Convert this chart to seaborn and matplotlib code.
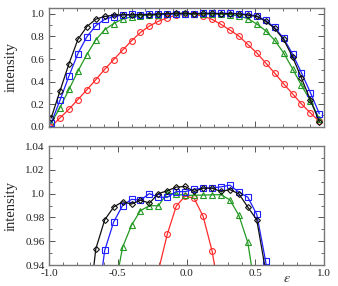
import numpy as np
import pandas as pd
import matplotlib
matplotlib.use("Agg")
import matplotlib.pyplot as plt
import seaborn as sns
from matplotlib.ticker import MultipleLocator, FixedLocator, FixedFormatter

# epsilon grid (31 points)
eps = [-0.985, -0.92, -0.855, -0.79, -0.725, -0.66, -0.595, -0.53, -0.465, -0.4,
       -0.335, -0.27, -0.205, -0.14, -0.075, -0.01, 0.055, 0.12, 0.185, 0.25,
       0.315, 0.38, 0.445, 0.51, 0.575, 0.64, 0.705, 0.77, 0.835, 0.9, 0.965]

red = [0.0, 0.078, 0.155, 0.241, 0.327, 0.417, 0.509, 0.595, 0.679, 0.762,
       0.836, 0.893, 0.935, 0.966, 0.9895, 0.998, 0.996, 0.981, 0.952, 0.908,
       0.857, 0.804, 0.729, 0.655, 0.565, 0.476, 0.381, 0.292, 0.202, 0.122, 0.047]

green = [0.03, 0.17, 0.33, 0.492, 0.64, 0.77, 0.86, 0.915, 0.955, 0.9735,
         0.9858, 0.9898, 0.9898, 1.0005, 0.9995, 0.9986, 0.9986, 0.9988, 0.999, 0.9991,
         0.9947, 0.9818, 0.959, 0.911, 0.851, 0.768, 0.655, 0.515, 0.366, 0.232, 0.069]

blue = [0.030, 0.235, 0.449, 0.649, 0.797, 0.896, 0.9523, 0.9762, 0.990, 0.9952,
        0.9945, 1.0, 0.997, 0.9969, 1.0017, 1.0017, 1.0036, 1.0047, 1.0047, 1.0057,
        1.0071, 1.0012, 0.997, 0.9826, 0.9430, 0.88, 0.785, 0.645, 0.478, 0.303, 0.115]

black = [0.075, 0.318, 0.558, 0.774, 0.887, 0.9535, 0.978, 0.9887, 0.9932, 0.9912,
         0.9945, 0.992, 1.0, 1.0024, 1.0055, 1.006, 1.0018, 1.0046, 1.0046, 1.0018,
         1.0034, 0.9998, 0.9887, 0.978, 0.935, 0.872, 0.774, 0.62, 0.432, 0.235, 0.045]

x_ticks = [-1.0, -0.5, 0.0, 0.5, 1.0]
x_ticklabels = ["-1.0", "-0.5", "0.0", "0.5", "1.0"]
top_yticks = [0.0, 0.2, 0.4, 0.6, 0.8, 1.0]
top_yticklabels = ["0.0", "0.2", "0.4", "0.6", "0.8", "1.0"]
bot_yticks = [0.94, 0.96, 0.98, 1.0, 1.02, 1.04]
bot_yticklabels = ["0.94", "0.96", "0.98", "1.0", "1.02", "1.04"]

sns.set_style("ticks")
plt.rcParams['font.family'] = ['Liberation Serif', 'DejaVu Serif']
plt.rcParams['mathtext.fontset'] = 'stix'

series = [(red, "#ff2a2a", "o", 4.2),
          (green, "#229922", "^", 4.3),
          (blue, "#1f1fff", "s", 4.0),
          (black, "#111111", "D", 3.0)]

fig = plt.figure(figsize=(3.38, 2.86), dpi=100)
ax1 = fig.add_axes([0.145, 0.557, 0.814, 0.414])
ax2 = fig.add_axes([0.145, 0.0734, 0.814, 0.416])

for ax in (ax1, ax2):
    for vals, col, mk, ms in series:
        sns.lineplot(x=eps, y=vals, ax=ax, color=col, marker=mk, markersize=ms,
                     markerfacecolor="none", markeredgecolor=col, markeredgewidth=0.8,
                     linewidth=0.9, sort=False, estimator=None)
    ax.set_xlim(-1.0, 1.0)
    ax.xaxis.set_major_locator(FixedLocator(x_ticks))
    ax.xaxis.set_minor_locator(MultipleLocator(0.1))
    ax.tick_params(which="both", direction="in", top=True, right=True,
                   labelsize=8, colors="#222222", pad=3)
    ax.tick_params(which="major", length=4, width=0.7, color="#555555")
    ax.tick_params(which="minor", length=2, width=0.6, color="#555555")
    for sp in ax.spines.values():
        sp.set_color("#777777")
        sp.set_linewidth(1.0)
    ax.set_ylabel("intensity", fontsize=10.5)
    ax.yaxis.set_label_coords(-0.112, 0.5)

ax1.set_ylim(0.0, 1.05)
ax1.yaxis.set_major_locator(FixedLocator(top_yticks))
ax1.yaxis.set_major_formatter(FixedFormatter(top_yticklabels))
ax1.yaxis.set_minor_locator(MultipleLocator(0.1))
ax1.set_xticklabels([])

ax2.set_ylim(0.94, 1.04)
ax2.yaxis.set_major_locator(FixedLocator(bot_yticks))
ax2.yaxis.set_major_formatter(FixedFormatter(bot_yticklabels))
ax2.yaxis.set_minor_locator(MultipleLocator(0.01))
ax2.xaxis.set_major_formatter(FixedFormatter(x_ticklabels))
ax2.set_xlabel(r"$\epsilon$", fontsize=10)
ax2.xaxis.set_label_coords(0.866, -0.06)

fig.savefig("out.png", dpi=100)
